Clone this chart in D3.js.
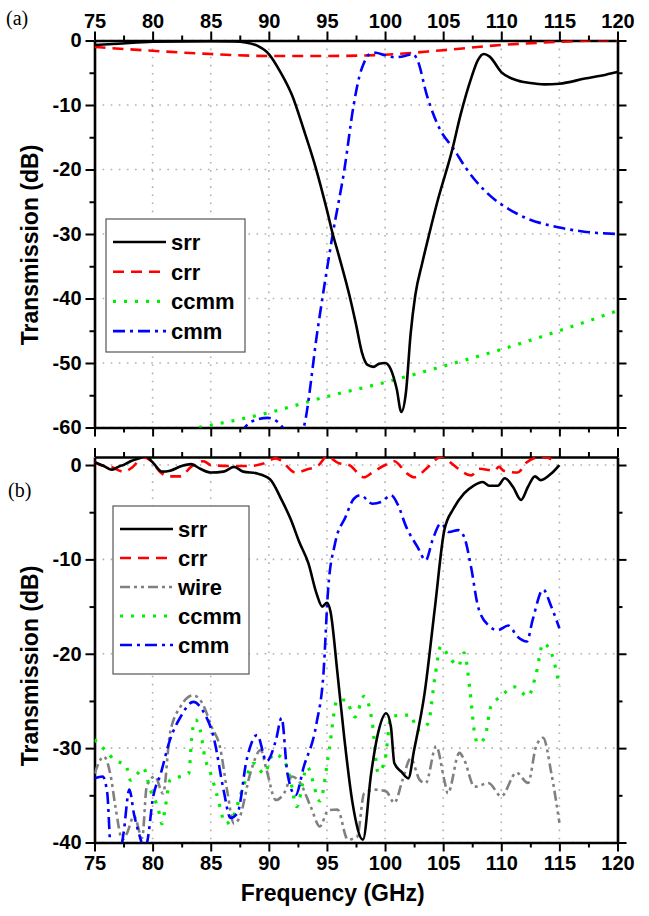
<!DOCTYPE html>
<html>
<head>
<meta charset="utf-8">
<script src="https://cdn.jsdelivr.net/npm/d3@7/dist/d3.min.js"></script>
<style>
  body { margin: 0; background: #fff; }
</style>
</head>
<body>
<div id="graph"></div>
<script>
let width = 649;
let height = 916;

// tick values
let freqTicks = [75, 80, 85, 90, 95, 100, 105, 110, 115, 120];
let freqMinor = [77.5, 82.5, 87.5, 92.5, 97.5, 102.5, 107.5, 112.5, 117.5];
let topTicks = [0, -10, -20, -30, -40, -50, -60];
let topMinor = [-5, -15, -25, -35, -45, -55];
let botTicks = [0, -10, -20, -30, -40];
let botMinor = [-5, -15, -25, -35];

// panel (a) : [GHz, dB]
let srrA = [[75,-0.7],[77,-0.5],[80,-0.2],[85,-0.1],[87,-0.15],[88,-0.3],[89,-0.8],[90,-2.1],[91,-4.9],[92,-8.5],
  [93,-13.8],[94,-19.5],[95,-26.3],[95.5,-30],[96,-33.2],[97,-40],[97.5,-44],[98,-48.3],[98.5,-50.3],[99,-50.6],
  [99.5,-50.1],[100,-50],[100.5,-51],[101,-54],[101.4,-57.6],[101.8,-54.5],[102.2,-45.5],[102.6,-39.5],[103.2,-34.5],
  [103.8,-30],[104.5,-25],[105.8,-16.8],[106.5,-11.5],[107.4,-5.9],[108,-3],[108.5,-2.1],[109,-2.5],[110,-4.9],
  [111.4,-6.2],[112.5,-6.6],[113.7,-6.8],[115,-6.7],[117.2,-5.9],[119,-5.3],[120,-4.9]];
let crrA = [[75,-1.0],[80,-1.6],[85,-2.1],[90,-2.4],[95,-2.4],[100,-2.2],[105,-1.5],[110,-0.7],[115,-0.2],[118,0],[120,0]];
let ccmmA = [[84,-60],[90,-57.7],[95,-55.2],[100,-53],[105,-50.5],[110,-47.9],[115,-45],[120,-41.9]];
let cmmA = [[87.5,-61],[88.5,-59.1],[89.9,-58.5],[90.8,-59.2],[91.3,-60.3],[91.8,-62],[92.5,-62],[93,-60],[94.2,-44.8],
  [95.5,-30],[96.5,-20],[97.3,-10],[97.8,-5.5],[98.2,-3.4],[98.6,-2.2],[99.2,-1.9],[100,-2.3],[100.8,-2.6],[101.7,-2.4],
  [102.4,-2.1],[102.8,-3.1],[103.6,-8.5],[104.7,-13.7],[105.9,-16.8],[107,-19.9],[108.7,-23.5],[111.4,-26.9],
  [115,-29],[117,-29.6],[120,-30]];

// panel (b)
let srrB = [[75,0.3],[75.8,-0.1],[76.5,-0.5],[77.2,-0.1],[77.5,0],[78.1,0.4],[78.8,0.7],[79.4,0.9],[80,0.3],[80.8,-0.7],
  [81.5,-0.6],[82.5,-0.1],[83.3,0.1],[84.1,-0.4],[85,-0.8],[86.1,-0.7],[87,-0.2],[87.8,-0.7],[89,-0.9],[90.1,-1.5],
  [91.1,-3.7],[91.9,-5.8],[92.6,-8.1],[93.4,-10.4],[94.1,-13.6],[94.6,-15],[95,-14.6],[95.3,-15.5],[95.9,-22],
  [96.5,-29],[97.2,-35.8],[98.1,-39.7],[98.8,-32.7],[99.4,-28.4],[100.1,-26.3],[100.5,-27.7],[100.8,-31.6],
  [101.4,-32.5],[102,-33.2],[102.5,-30.2],[103.4,-24.2],[104.3,-15],[105.1,-6.9],[105.9,-4.6],[106.8,-3.0],
  [107.6,-2.2],[108.4,-1.8],[109,-2.2],[109.7,-2.2],[110.3,-1.4],[111,-2.3],[111.7,-3.7],[112.3,-2.3],[112.9,-1.2],
  [113.4,-1.6],[114.3,-0.9],[115,0]];
let crrB = [[75,0.35],[75.5,0],[76.4,-0.2],[77.5,-0.7],[78.2,-0.3],[79.2,0.8],[79.9,0.4],[80.7,-0.8],[81.4,-1.2],
  [82.4,-1.2],[83.3,-0.2],[84.4,0.4],[85,0],[86.7,-0.1],[88.4,-0.1],[89.4,0.1],[90.6,0.7],[91,0.5],[92.3,-0.8],
  [93.2,-0.5],[94.3,0],[95,0.9],[96,0.2],[96.9,0],[98.2,-1.3],[98.9,-0.8],[100,0],[100.8,0.4],[101.8,-0.8],
  [102.5,-1.3],[103.7,-0.2],[104.5,0.7],[105,0.9],[105.5,0.4],[106.3,-0.4],[107.4,-1.1],[108.1,-0.4],[109.4,-0.6],
  [109.8,-0.2],[110.2,-0.6],[111.4,-0.8],[112.2,0.3],[113.2,0.8],[113.9,0.8],[114.3,0.6]];
let wireB = [[75,-32.7],[75.8,-30.9],[76.4,-33],[76.8,-36.2],[77.4,-39.7],[77.8,-39],[78.4,-37.2],[79.1,-39.5],
  [79.5,-34],[80.2,-33],[80.9,-34.8],[81.5,-28.4],[82.4,-25.6],[83.5,-24.4],[84.3,-25.3],[85.1,-27.8],[85.8,-29.9],
  [86.4,-34.4],[87,-38],[87.5,-37.3],[88.4,-32.7],[89.3,-30.2],[89.8,-32.3],[90.6,-35.5],[91.3,-34.8],[92,-33],
  [92.7,-33.7],[93.6,-36.2],[94.4,-38.3],[95.1,-36.6],[95.9,-36.5],[96.8,-39.7],[97.6,-39.4],[98.2,-34.8],
  [99.1,-34.4],[100.1,-34.6],[100.8,-35.8],[101.5,-33.4],[102.2,-31.1],[103,-33.4],[103.5,-33.7],[104.4,-29.8],
  [105.1,-33.4],[105.4,-34.8],[106.4,-30.5],[106.8,-31.2],[107.7,-34.1],[108.9,-33.7],[110,-35.1],[111.3,-32.6],
  [112.3,-33.7],[113,-29.8],[113.6,-28.9],[114.3,-32.6],[115,-37.9]];
let ccmmB = [[75,-29.1],[75.9,-30.2],[76.8,-31.3],[77.7,-31.8],[78.1,-33.4],[78.7,-32.7],[79.2,-32.1],[79.8,-34.4],
  [80.5,-36.5],[80.8,-38],[81.1,-36.2],[81.5,-33.4],[82.4,-33],[83.1,-32.7],[83.4,-28.4],[83.7,-27],[84.1,-28.1],
  [84.5,-31],[85,-32.7],[85.5,-34.8],[86.3,-38],[86.9,-37.3],[87.8,-34.1],[88.7,-31.6],[89.6,-32.7],[90.4,-30.6],
  [91.3,-31.3],[91.8,-33],[92.4,-36.2],[93.3,-32],[94.4,-35.6],[95.1,-31],[95.9,-24.9],[96.6,-24.9],[97.4,-26.7],
  [98.2,-24.5],[98.9,-27.3],[99.4,-32.6],[100,-31.2],[100.5,-26.7],[101.5,-26.5],[102.2,-26.5],[102.8,-28.1],
  [103.7,-27.4],[104.3,-22.4],[104.8,-19.2],[105.5,-20.3],[106.3,-21.3],[106.8,-19.9],[107.3,-23.8],[107.7,-28.4],
  [108,-29.5],[108.6,-28.8],[109.1,-25.6],[110,-24.5],[111.1,-23.5],[112.3,-24.5],[113,-22.1],[113.6,-18.9],
  [114.3,-19.9],[115,-23.5]];
let cmmB = [[75,-33.2],[75.7,-33],[76.1,-34.8],[76.4,-40.5],[77.2,-41],[77.5,-39],[78,-34.4],[78.4,-37],[79,-39.8],
  [79.3,-41],[79.6,-39.5],[80,-35.5],[80.7,-32.7],[81.5,-29.1],[82.4,-26.7],[83.5,-25.1],[84.3,-26],[85.3,-29.1],
  [86.1,-34.4],[86.7,-37.4],[87.3,-36.9],[88.1,-31.2],[89,-28.6],[89.8,-31.4],[90.6,-29.2],[91.1,-26.8],[91.6,-32.7],
  [92.3,-35],[93,-32],[94.1,-27.4],[94.7,-22.1],[95.1,-13.2],[95.7,-8.3],[96.6,-5.5],[97.3,-3.6],[97.9,-3.2],
  [98.9,-4.1],[99.7,-3.9],[100.5,-3.2],[101.1,-4.2],[101.8,-6.5],[102.8,-8.7],[103.5,-10.1],[104.1,-7.9],
  [104.8,-6.2],[105.5,-7.1],[106.3,-6.9],[106.8,-7.6],[107.4,-10.8],[108,-15],[108.9,-17],[109.7,-17.5],
  [110.6,-17],[111.4,-18.2],[112.2,-18.7],[112.7,-16.4],[113.6,-13.2],[114.3,-15],[115,-17.3]];

// line styles
let styles = {
  srr:  { color: '#000000', dash: null,             w: 2.6 },
  crr:  { color: '#ff0000', dash: '11,7',           w: 2.6 },
  wire: { color: '#808080', dash: '10,4,3,4,3,4',   w: 2.6 },
  ccmm: { color: '#00ee00', dash: '3,8',            w: 3.2 },
  cmm:  { color: '#0000ff', dash: '12,5,3,5',       w: 2.6 }
};

let font = '"Liberation Sans", Arial, sans-serif';

let svg = d3.select('#graph')
  .append('svg')
    .attr('width', width)
    .attr('height', height)
    .style('font-family', font);

let x = d3.scaleLinear().domain([75, 120]).range([94.5, 617.5]);
let yA = d3.scaleLinear().domain([-60, 0]).range([427.5, 40.5]);
let yB = d3.scaleLinear().domain([-40, 0.85]).range([842.5, 457]);

function styleAxis(g) {
  g.select('.domain').attr('stroke-width', 2.6);
  g.selectAll('.tick line').attr('stroke-width', 2);
  g.selectAll('.tick text')
    .attr('font-family', font)
    .attr('font-size', 20)
    .attr('font-weight', 'bold')
    .attr('fill', '#000');
  g.attr('font-family', font);
}

function drawPanel(y, yTicks, yMinor, id, topLabels, bottomLabels) {
  let y0 = y.range()[1], y1 = y.range()[0];
  let x0 = x.range()[0], x1 = x.range()[1];

  // grid
  let grid = svg.append('g')
    .attr('stroke', '#b0b0b0')
    .attr('stroke-width', 1.6)
    .attr('stroke-dasharray', '1.6,6.5');
  grid.selectAll('.gx').data(freqTicks.slice(1, -1)).enter().append('line')
    .attr('x1', d => x(d)).attr('x2', d => x(d))
    .attr('y1', y0).attr('y2', y1);
  grid.selectAll('.gy').data(yTicks).enter().append('line')
    .attr('x1', x0).attr('x2', x1)
    .attr('y1', d => y(d)).attr('y2', d => y(d));

  svg.append('clipPath').attr('id', id)
    .append('rect')
      .attr('x', x0).attr('y', y0)
      .attr('width', x1 - x0).attr('height', y1 - y0);

  // axes (major + minor)
  let axes = [
    [d3.axisTop(x), y0, freqTicks, freqMinor, topLabels, 'x'],
    [d3.axisBottom(x), y1, freqTicks, freqMinor, bottomLabels, 'x'],
    [d3.axisLeft(y), x0, yTicks, yMinor, true, 'y'],
    [d3.axisRight(y), x1, yTicks, yMinor, false, 'y']
  ];
  axes.forEach(function(a) {
    let tr = a[5] == 'x' ? 'translate(0,' + a[1] + ')' : 'translate(' + a[1] + ',0)';
    let ax = a[0].tickValues(a[2]).tickSize(9).tickSizeOuter(0).tickPadding(4);
    if (!a[4]) ax.tickFormat('');
    else ax.tickFormat(d => String(d));
    svg.append('g').attr('transform', tr).call(ax).call(styleAxis);
    let mn = a[0].tickValues(a[3]).tickSize(5).tickFormat('');
    svg.append('g').attr('transform', tr).call(mn).call(styleAxis)
      .select('.domain').remove();
  });
}

function drawSeries(y, id, data, st) {
  let line = d3.line()
    .x(d => x(d[0]))
    .y(d => y(d[1]))
    .curve(d3.curveMonotoneX);
  svg.append('path')
    .attr('clip-path', 'url(#' + id + ')')
    .attr('d', line(data))
    .attr('fill', 'none')
    .attr('stroke', st.color)
    .attr('stroke-width', st.w)
    .attr('stroke-dasharray', st.dash)
    .attr('stroke-linejoin', 'round');
}

function drawLegend(lx, ly, w, h, names, step) {
  svg.append('rect')
    .attr('x', lx).attr('y', ly).attr('width', w).attr('height', h)
    .attr('fill', '#fff').attr('stroke', '#555').attr('stroke-width', 1.2);
  names.forEach(function(n, i) {
    let cy = ly + 23 + i * step;
    let st = styles[n];
    svg.append('line')
      .attr('x1', lx + 7).attr('x2', lx + 60)
      .attr('y1', cy).attr('y2', cy)
      .attr('stroke', st.color)
      .attr('stroke-width', st.w)
      .attr('stroke-dasharray', st.dash);
    svg.append('text')
      .attr('x', lx + 65).attr('y', cy + 8)
      .attr('font-size', 22)
      .attr('font-weight', 'bold')
      .text(n);
  });
}

// panel (a)
drawPanel(yA, topTicks, topMinor, 'clipA', true, false);
drawSeries(yA, 'clipA', crrA, styles.crr);
drawSeries(yA, 'clipA', ccmmA, styles.ccmm);
drawSeries(yA, 'clipA', cmmA, styles.cmm);
drawSeries(yA, 'clipA', srrA, styles.srr);
drawLegend(106, 219, 139, 133, ['srr', 'crr', 'ccmm', 'cmm'], 29.7);

// panel (b)
drawPanel(yB, botTicks, botMinor, 'clipB', false, true);
drawSeries(yB, 'clipB', wireB, styles.wire);
drawSeries(yB, 'clipB', ccmmB, styles.ccmm);
drawSeries(yB, 'clipB', cmmB, styles.cmm);
drawSeries(yB, 'clipB', crrB, styles.crr);
drawSeries(yB, 'clipB', srrB, styles.srr);
drawLegend(113, 506, 136, 168, ['srr', 'crr', 'wire', 'ccmm', 'cmm'], 29);

// labels
svg.append('text').attr('x', 6).attr('y', 25)
  .attr('font-family', '"Liberation Serif", "Times New Roman", serif')
  .attr('font-size', 20).text('(a)');
svg.append('text').attr('x', 8).attr('y', 497)
  .attr('font-family', '"Liberation Serif", "Times New Roman", serif')
  .attr('font-size', 20).text('(b)');

[245, 666].forEach(function(cy) {
  svg.append('text')
    .attr('transform', 'translate(38,' + cy + ') rotate(-90)')
    .attr('text-anchor', 'middle')
    .attr('font-size', 23)
    .attr('font-weight', 'bold')
    .text('Transmission (dB)');
});

svg.append('text')
  .attr('x', x(95.5)).attr('y', 901)
  .attr('text-anchor', 'middle')
  .attr('font-size', 23)
  .attr('font-weight', 'bold')
  .text('Frequency (GHz)');
</script>
</body>
</html>
